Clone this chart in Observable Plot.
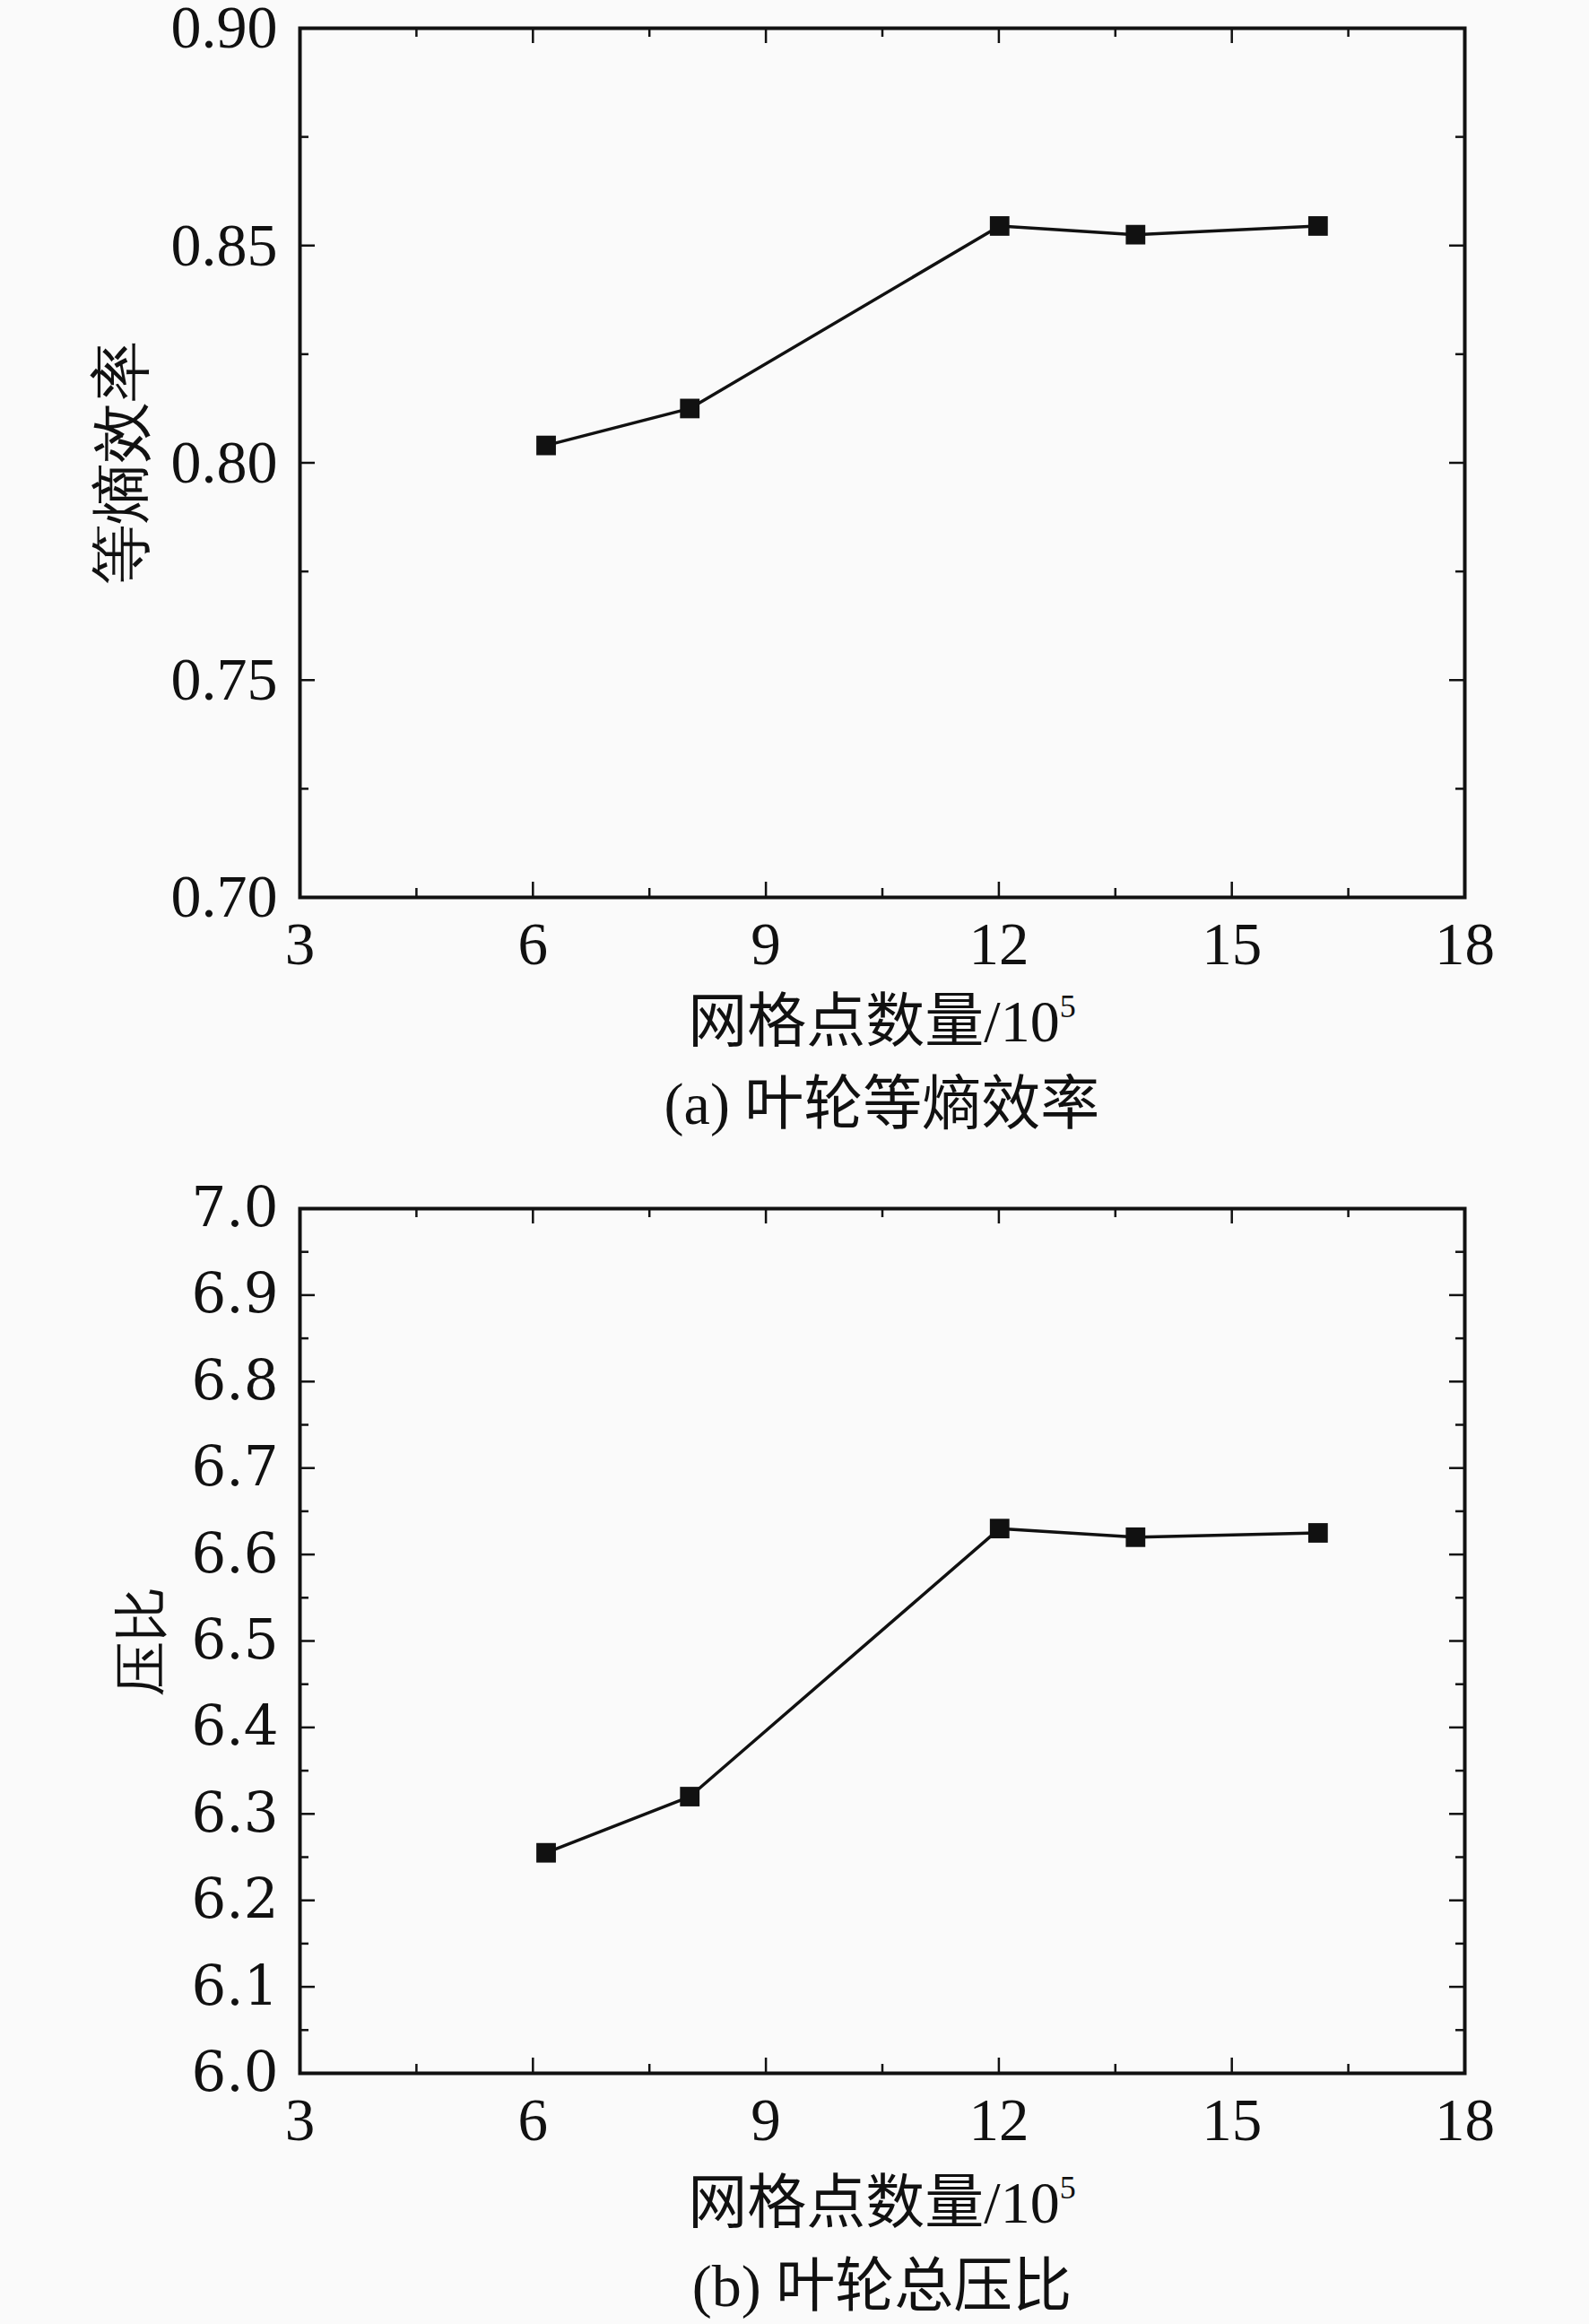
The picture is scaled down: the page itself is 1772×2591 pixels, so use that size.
<!DOCTYPE html>
<html>
<head>
<meta charset="utf-8">
<script src="https://cdn.jsdelivr.net/npm/d3@7"></script>
<script src="https://cdn.jsdelivr.net/npm/@observablehq/plot@0.6"></script>
<style>
html,body{margin:0;padding:0;background:#fafafa;overflow:hidden;}
#root{position:relative;width:1772px;height:2591px;background:#fafafa;}
.fig{position:absolute;left:0;}
.lbl{position:absolute;left:334px;width:1299px;text-align:center;font-family:"Liberation Serif","Noto Sans CJK SC",serif;font-size:66px;line-height:66px;color:#111;white-space:nowrap;}
.lbl sup{font-size:36px;line-height:0;position:relative;top:-4px;vertical-align:super;}
</style>
</head>
<body>
<div id="root"></div>
<script>
// ---- data ----
const gridPoints = [6.17, 8.02, 12.01, 13.76, 16.11];          // 网格点数量 / 10^5
const efficiency = [0.8040, 0.8125, 0.8545, 0.8525, 0.8545];    // 等熵效率
const pressureRatio = [6.255, 6.320, 6.630, 6.620, 6.625];      // 压比

const xMajorTicks = [3, 6, 9, 12, 15, 18];
const xMinorTicks = [4.5, 7.5, 10.5, 13.5, 16.5];
const effMajorTicks = [0.70, 0.75, 0.80, 0.85, 0.90];
const effMinorTicks = [0.725, 0.775, 0.825, 0.875];
const prMajorTicks = [6.0, 6.1, 6.2, 6.3, 6.4, 6.5, 6.6, 6.7, 6.8, 6.9, 7.0];
const prMinorTicks = [6.05, 6.15, 6.25, 6.35, 6.45, 6.55, 6.65, 6.75, 6.85, 6.95];

const xLabelText = "网格点数量/10";
const xLabelSup = "5";
const captionA = "(a) 叶轮等熵效率";
const captionB = "(b) 叶轮总压比";
const yLabelA = "等熵效率";
const yLabelB = "压比";

// ---- layout ----
const W = 1772, ML = 334, MR = 139;
const INK = "#111";
const root = document.getElementById("root");

function makeChart(opt) {
  const plotH = opt.height - opt.marginTop - opt.marginBottom;
  const plotW = W - ML - MR;
  const data = gridPoints.map((x, i) => ({x, y: opt.values[i]}));
  const maj = 17, min = 10;
  const tickStyle = {stroke: INK, strokeWidth: 2.5};
  const chart = Plot.plot({
    width: W,
    height: opt.height,
    marginLeft: ML,
    marginRight: MR,
    marginTop: opt.marginTop,
    marginBottom: opt.marginBottom,
    style: {background: "#fafafa", color: INK, fontFamily: "'Liberation Serif','Noto Sans CJK SC',serif", fontSize: "66px", overflow: "visible"},
    x: {domain: [3, 18]},
    y: {domain: opt.domain},
    marks: [
      // inward ticks, bottom/top
      Plot.tickX(xMajorTicks, {x: d => d, insetTop: plotH - maj, ...tickStyle}),
      Plot.tickX(xMinorTicks, {x: d => d, insetTop: plotH - min, ...tickStyle}),
      Plot.tickX(xMajorTicks, {x: d => d, insetBottom: plotH - maj, ...tickStyle}),
      Plot.tickX(xMinorTicks, {x: d => d, insetBottom: plotH - min, ...tickStyle}),
      // inward ticks, left/right
      Plot.tickY(opt.major, {y: d => d, insetRight: plotW - maj, ...tickStyle}),
      Plot.tickY(opt.minor, {y: d => d, insetRight: plotW - min, ...tickStyle}),
      Plot.tickY(opt.major, {y: d => d, insetLeft: plotW - maj, ...tickStyle}),
      Plot.tickY(opt.minor, {y: d => d, insetLeft: plotW - min, ...tickStyle}),
      Plot.frame({stroke: INK, strokeWidth: 4}),
      Plot.line(data, {x: "x", y: "y", stroke: INK, strokeWidth: 3.5}),
      Plot.dot(data, {x: "x", y: "y", symbol: "square", r: 12.3, fill: INK, stroke: "none"}),
      Plot.axisX({ticks: xMajorTicks, tickSize: 0, tickPadding: 27, fontSize: 67, label: null}),
      Plot.axisY({ticks: opt.major, tickSize: 0, tickPadding: opt.tickPad, fontSize: opt.yFontSize, fontFamily: opt.yFont,
        tickFormat: d3.format(opt.fmt), label: opt.label, labelAnchor: "center", labelArrow: "none",
        labelOffset: opt.labelOffset})
    ]
  });
  chart.classList.add("fig");
  chart.style.top = opt.top + "px";
  root.appendChild(chart);
}

function addLabel(html, baseline) {
  const d = document.createElement("div");
  d.className = "lbl";
  d.innerHTML = html;
  d.style.top = (baseline - 62) + "px";
  root.appendChild(d);
}

makeChart({
  top: 0, height: 1100, marginTop: 31, marginBottom: 100,
  domain: [0.70, 0.90], values: efficiency, major: effMajorTicks, minor: effMinorTicks,
  fmt: ".2f", label: yLabelA, labelOffset: 225, tickPad: 25, yFontSize: 68, yFont: "'Liberation Serif',serif"
});
addLabel(xLabelText + "<sup>" + xLabelSup + "</sup>", 1168);
addLabel(captionA, 1260);

makeChart({
  top: 1300, height: 1111, marginTop: 47, marginBottom: 100,
  domain: [6.0, 7.0], values: pressureRatio, major: prMajorTicks, minor: prMinorTicks,
  fmt: ".1f", label: yLabelB, labelOffset: 200, tickPad: 24, yFontSize: 61, yFont: "'DejaVu Serif',serif"
});
addLabel(xLabelText + "<sup>" + xLabelSup + "</sup>", 2485);
addLabel(captionB, 2578);
</script>
</body>
</html>
